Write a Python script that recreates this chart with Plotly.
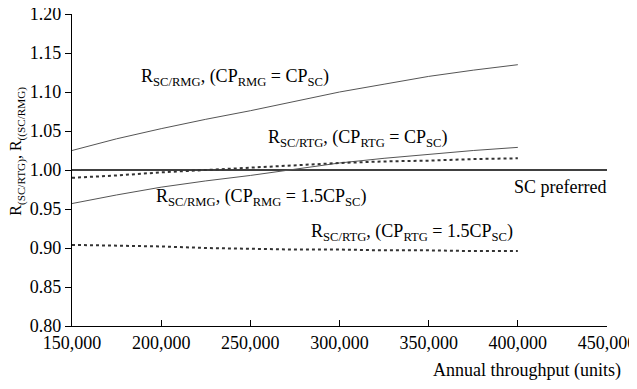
import plotly.graph_objects as go

x_thr = [150000, 175000, 200000, 225000, 250000, 275000, 300000, 325000, 350000, 375000, 400000]
r_rmg_eq = [1.025, 1.040, 1.053, 1.065, 1.076, 1.088, 1.100, 1.110, 1.120, 1.128, 1.135]
r_rtg_eq = [0.957, 0.968, 0.978, 0.986, 0.993, 1.001, 1.009, 1.015, 1.020, 1.025, 1.029]
r_rmg_15 = [0.990, 0.993, 0.997, 1.000, 1.003, 1.006, 1.009, 1.011, 1.012, 1.014, 1.015]
r_rtg_15 = [0.904, 0.903, 0.902, 0.900, 0.899, 0.898, 0.898, 0.897, 0.897, 0.896, 0.896]
ref_x = [150000, 450000]
ref_y = [1.0, 1.0]
y_ticks = [0.80, 0.85, 0.90, 0.95, 1.00, 1.05, 1.10, 1.15, 1.20]
x_ticks = [150000, 200000, 250000, 300000, 350000, 400000, 450000]
x_tick_labels = ["150,000", "200,000", "250,000", "300,000", "350,000", "400,000", "450,000"]

FONT = "Liberation Serif, Times New Roman, Times, serif"
fig = go.Figure()
fig.add_trace(go.Scatter(x=ref_x, y=ref_y, mode="lines", line=dict(color="black", width=1.3)))
fig.add_trace(go.Scatter(x=x_thr, y=r_rmg_eq, mode="lines", line=dict(color="#555555", width=1)))
fig.add_trace(go.Scatter(x=x_thr, y=r_rtg_eq, mode="lines", line=dict(color="#555555", width=1)))
fig.add_trace(go.Scatter(x=x_thr, y=r_rmg_15, mode="lines", line=dict(color="#333333", width=2, dash="3px,3px")))
fig.add_trace(go.Scatter(x=x_thr, y=r_rtg_15, mode="lines", line=dict(color="#333333", width=2, dash="3px,3px")))

def lab(text, x, y, **kw):
    fig.add_annotation(text=text, x=x, y=y, showarrow=False, xanchor="left", yanchor="middle",
                       font=dict(family=FONT, size=18, color="black"), **kw)

lab("R<sub>SC/RMG</sub>, (CP<sub>RMG</sub> = CP<sub>SC</sub>)", 187800, 1.119)
lab("R<sub>SC/RTG</sub>, (CP<sub>RTG</sub> = CP<sub>SC</sub>)", 258700, 1.040)
lab("R<sub>SC/RMG</sub>, (CP<sub>RMG</sub> = 1.5CP<sub>SC</sub>)", 196200, 0.965)
lab("R<sub>SC/RTG</sub>, (CP<sub>RTG</sub> = 1.5CP<sub>SC</sub>)", 283000, 0.920)
lab("SC preferred", 397000, 0.978)

fig.add_annotation(text="Annual throughput (units)", xref="paper", yref="paper", x=1.0305, y=-0.144,
                   xanchor="right", yanchor="middle", showarrow=False,
                   font=dict(family=FONT, size=18, color="black"))
fig.add_annotation(text="R<sub>(SC/RTG)</sub>, R<sub>((SC/RMG)</sub>", xref="paper", yref="paper",
                   x=-0.102, y=0.56, textangle=-90, xanchor="center", yanchor="middle", showarrow=False,
                   font=dict(family=FONT, size=16, color="black"))

fig.update_layout(
    width=629, height=381, showlegend=False,
    margin=dict(l=64, r=30, t=6, b=63),
    paper_bgcolor="white", plot_bgcolor="white",
    font=dict(family=FONT, size=18, color="black"),
    xaxis=dict(range=[150000, 450000], tickvals=x_ticks, ticktext=x_tick_labels, automargin=False,
               ticklabeloverflow="allow",
               ticks="inside", ticklen=6, tickcolor="black", showgrid=False, zeroline=False,
               showline=True, linecolor="black", linewidth=1.3),
    yaxis=dict(range=[0.80, 1.20], tickvals=y_ticks, tickformat=".2f", automargin=False,
               ticklabeloverflow="allow",
               ticks="outside", ticklen=6, tickcolor="black", showgrid=False, zeroline=False,
               showline=True, linecolor="black", linewidth=1.3),
)
fig.write_html("out.html")
